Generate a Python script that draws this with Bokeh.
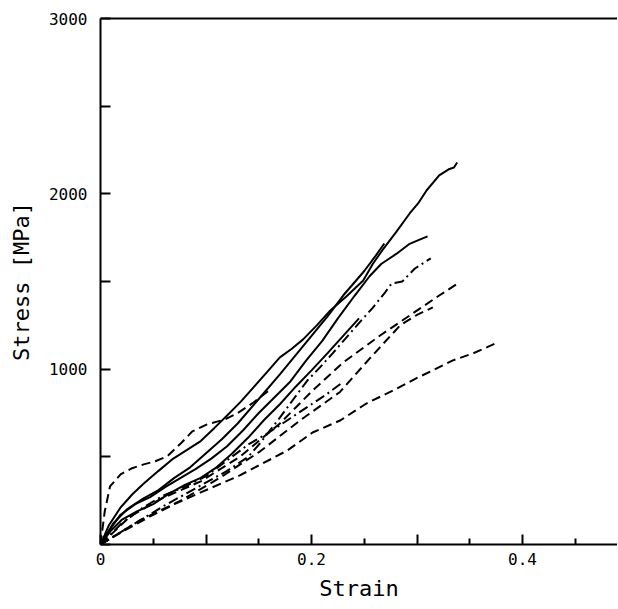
from bokeh.plotting import figure
from bokeh.models import FixedTicker, LinearAxis, Range1d
from bokeh.embed import file_html
from bokeh.resources import INLINE

# ---- data (strain, stress MPa) ----
a_x = [0, 0.008, 0.019, 0.030, 0.041, 0.055, 0.069, 0.082, 0.095, 0.108, 0.120, 0.133, 0.145, 0.158, 0.170, 0.181, 0.192, 0.205, 0.217, 0.233, 0.249, 0.258, 0.267, 0.280, 0.293, 0.301, 0.309, 0.321, 0.330, 0.335, 0.338]
a_y = [0, 110, 211, 285, 348, 420, 490, 540, 590, 665, 736, 815, 896, 985, 1067, 1115, 1170, 1250, 1330, 1415, 1506, 1600, 1677, 1780, 1888, 1945, 2019, 2105, 2140, 2150, 2179]

b_x = [0, 0.010, 0.019, 0.033, 0.047, 0.062, 0.076, 0.090, 0.105, 0.120, 0.135, 0.150, 0.165, 0.180, 0.195, 0.210, 0.225, 0.241, 0.255, 0.266, 0.281, 0.293, 0.303, 0.310]
b_y = [0, 95, 170, 230, 270, 330, 380, 430, 490, 560, 650, 750, 840, 930, 1050, 1160, 1290, 1420, 1530, 1600, 1660, 1715, 1740, 1757]

c_x = [0, 0.012, 0.025, 0.040, 0.055, 0.070, 0.085, 0.100, 0.115, 0.130, 0.150, 0.170, 0.185, 0.200, 0.215, 0.230, 0.250, 0.260, 0.269]
c_y = [0, 120, 200, 260, 310, 380, 440, 520, 600, 690, 830, 970, 1080, 1190, 1300, 1420, 1560, 1640, 1717]

s4_x = [0, 0.010, 0.020, 0.035, 0.050, 0.065, 0.080, 0.095, 0.110, 0.125, 0.140, 0.155, 0.170, 0.185, 0.200, 0.215, 0.230, 0.245]
s4_y = [0, 80, 140, 190, 230, 290, 340, 380, 440, 520, 610, 710, 800, 900, 993, 1090, 1190, 1290]

h_x = [0, 0.004, 0.009, 0.019, 0.030, 0.041, 0.052, 0.063, 0.076, 0.087, 0.101, 0.118, 0.130, 0.145, 0.160]
h_y = [0, 188, 331, 400, 435, 457, 475, 502, 576, 645, 685, 713, 750, 810, 880]

d_x = [0, 0.030, 0.060, 0.090, 0.120, 0.140, 0.151, 0.170, 0.183, 0.196, 0.208, 0.220, 0.233, 0.246, 0.258, 0.270, 0.276, 0.286, 0.298, 0.313]
d_y = [0, 110, 220, 320, 420, 500, 576, 724, 830, 935, 1010, 1090, 1180, 1270, 1350, 1440, 1489, 1500, 1574, 1632]

e_x = [0, 0.028, 0.057, 0.095, 0.132, 0.170, 0.201, 0.230, 0.265, 0.293, 0.321, 0.340]
e_y = [0, 160, 260, 360, 500, 690, 878, 1038, 1192, 1306, 1420, 1494]

f_x = [0, 0.038, 0.076, 0.113, 0.151, 0.189, 0.227, 0.255, 0.284, 0.300, 0.315]
f_y = [0, 140, 250, 380, 530, 707, 870, 1060, 1250, 1310, 1352]

j_x = [0, 0.020, 0.040, 0.060, 0.080, 0.100, 0.120, 0.140, 0.160, 0.180, 0.200, 0.215, 0.228]
j_y = [0, 120, 210, 280, 330, 390, 480, 570, 640, 720, 800, 860, 918]

g_x = [0, 0.020, 0.047, 0.070, 0.095, 0.132, 0.177, 0.201, 0.227, 0.252, 0.281, 0.300, 0.315, 0.334, 0.353, 0.366, 0.376]
g_y = [0, 70, 160, 230, 297, 394, 536, 639, 707, 804, 890, 950, 993, 1050, 1090, 1124, 1152]

solid_curves = [(a_x, a_y), (b_x, b_y), (c_x, c_y), (s4_x, s4_y)]
dashed_curves = [(e_x, e_y), (f_x, f_y), (g_x, g_y), (h_x, h_y)]
dashdot_curves = [(d_x, d_y), (j_x, j_y)]

x_ticks = [0, 0.1, 0.2, 0.3, 0.4]
x_minor = [0.05, 0.15, 0.25, 0.35, 0.45]
x_labels = {0: "0", 0.1: "", 0.2: "0.2", 0.3: "", 0.4: "0.4"}
y_ticks = [0, 500, 1000, 1500, 2000, 2500, 3000]
y_labels = {0: "", 500: "", 1000: "1000", 1500: "", 2000: "2000", 2500: "", 3000: "3000"}

FONT = "DejaVu Sans Mono"

p = figure(width=617, height=603, x_range=Range1d(0, 0.49), y_range=Range1d(0, 3000),
           output_backend="svg", toolbar_location=None,
           min_border_left=100, min_border_right=0, min_border_top=18, min_border_bottom=59)
p.outline_line_color = None
p.grid.visible = False
p.background_fill_color = "white"

for xs, ys in solid_curves:
    p.line(xs, ys, line_color="black", line_width=2)
for xs, ys in dashed_curves:
    p.line(xs, ys, line_color="black", line_width=2, line_dash="9 5")
for xs, ys in dashdot_curves:
    p.line(xs, ys, line_color="black", line_width=2, line_dash="10 4 2 4")

xa = p.xaxis[0]
xa.ticker = FixedTicker(ticks=x_ticks, minor_ticks=x_minor)
xa.major_label_overrides = x_labels
ya = p.yaxis[0]
ya.ticker = FixedTicker(ticks=y_ticks, minor_ticks=[])
ya.major_label_overrides = y_labels

for ax in (xa, ya):
    ax.axis_line_width = 2
    ax.axis_line_color = "black"
    ax.major_tick_in = 10
    ax.major_tick_out = 0
    ax.minor_tick_in = 6
    ax.minor_tick_out = 0
    ax.major_tick_line_width = 2
    ax.minor_tick_line_width = 2
    ax.major_tick_line_color = "black"
    ax.minor_tick_line_color = "black"
    ax.major_label_text_font = FONT
    ax.major_label_text_font_size = "16px"
    ax.major_label_text_color = "black"
    ax.axis_label_text_font = FONT
    ax.axis_label_text_font_size = "22px"
    ax.axis_label_text_font_style = "normal"
    ax.axis_label_text_color = "black"

xa.axis_label = "Strain"
xa.major_label_standoff = 8
xa.axis_label_standoff = 8
ya.axis_label = "Stress [MPa]"
ya.major_label_standoff = 13
ya.axis_label_standoff = 12

top = LinearAxis(ticker=FixedTicker(ticks=[]), axis_line_width=2, axis_line_color="black",
                 major_tick_line_color=None, minor_tick_line_color=None,
                 major_label_text_font_size="0px")
p.add_layout(top, "above")

open("out.html", "w").write(file_html(p, INLINE))
